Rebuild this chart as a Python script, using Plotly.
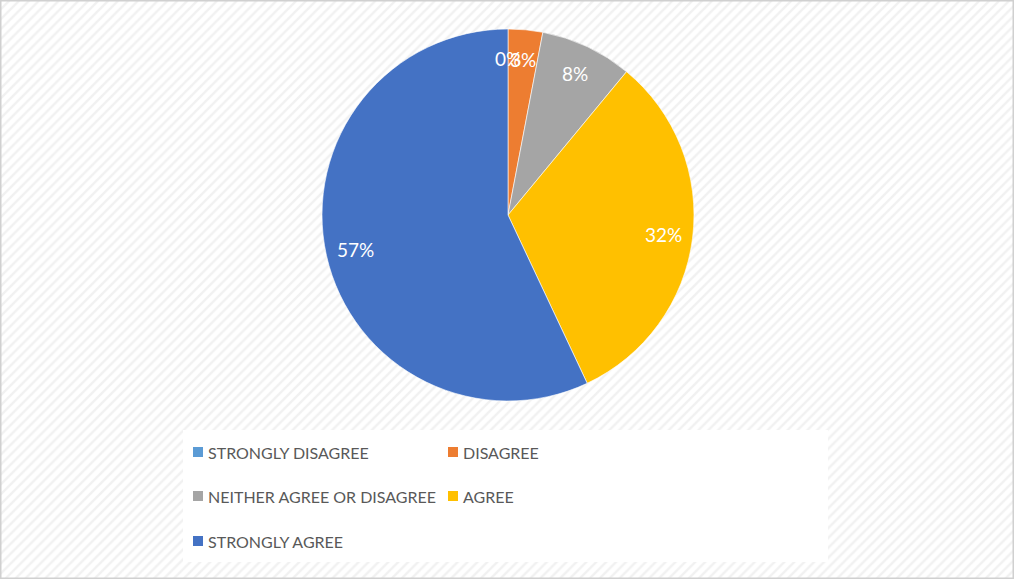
import math
import plotly.graph_objects as go

W, H = 1014, 579

categories = ["STRONGLY DISAGREE", "DISAGREE", "NEITHER AGREE OR DISAGREE", "AGREE", "STRONGLY AGREE"]
shares = [0, 3, 8, 32, 57]
colors = ["#5B9BD5", "#ED7D31", "#A5A5A5", "#FFC000", "#4472C4"]

FONT = "Lato, Liberation Sans"

# pie geometry in pixels
cx, cy, R = 508, 215, 186
dom_x = [(cx - R) / W, (cx + R) / W]
dom_y = [1 - (cy + R) / H, 1 - (cy - R) / H]

fig = go.Figure()

# hatched backdrop covering the whole canvas
fig.add_trace(go.Scatter(
    x=[0, 1, 1, 0, 0], y=[0, 0, 1, 1, 0], mode="lines", fill="toself",
    line=dict(width=0, color="rgba(0,0,0,0)"),
    fillcolor="white",
    fillpattern=dict(shape="/", fgcolor="#e4e4e4", bgcolor="white", size=7, solidity=0.35),
    hoverinfo="skip", showlegend=False,
))

fig.add_trace(go.Pie(
    labels=categories, values=shares, sort=False, direction="clockwise", rotation=0,
    marker=dict(colors=colors, line=dict(color="white", width=0.6)),
    textinfo="none", hole=0, showlegend=False,
    domain=dict(x=dom_x, y=dom_y),
))

annotations = []
# data labels placed along each slice's mid angle
total = sum(shares)
acc = 0
for v in shares:
    mid = (acc + v / 2) / total * 2 * math.pi
    acc += v
    r = 0.84 * R
    px = cx + r * math.sin(mid)
    py = cy - r * math.cos(mid)
    annotations.append(dict(
        x=px / W, y=1 - py / H, xref="paper", yref="paper", showarrow=False,
        text=f"{round(v / total * 100)}%",
        font=dict(family=FONT, size=19, color="white"),
        xanchor="center", yanchor="middle",
    ))

shapes = [
    # outer frame
    dict(type="rect", xref="paper", yref="paper", x0=0, x1=1, y0=0, y1=1,
         line=dict(color="#d0d0d0", width=3), fillcolor="rgba(0,0,0,0)", layer="above"),
    # legend panel
    dict(type="rect", xref="paper", yref="paper",
         x0=183 / W, x1=828 / W, y0=1 - 562 / H, y1=1 - 430 / H,
         line=dict(width=0), fillcolor="white", layer="above"),
]

col_x = [193, 448]
row_y = [452, 496, 541]
for i, (name, c) in enumerate(zip(categories, colors)):
    lx = col_x[i % 2]
    ly = row_y[i // 2]
    shapes.append(dict(type="rect", xref="paper", yref="paper",
                       x0=lx / W, x1=(lx + 10) / W, y0=1 - (ly + 5) / H, y1=1 - (ly - 5) / H,
                       line=dict(width=0), fillcolor=c, layer="above"))
    annotations.append(dict(
        x=(lx + 13) / W, y=1 - ly / H, xref="paper", yref="paper", showarrow=False,
        text=name, xanchor="left", yanchor="middle",
        font=dict(family=FONT, size=16, color="#595959"),
    ))

fig.update_layout(
    width=W, height=H, margin=dict(l=0, r=0, t=0, b=0),
    paper_bgcolor="white", plot_bgcolor="white",
    xaxis=dict(visible=False, range=[0, 1], fixedrange=True),
    yaxis=dict(visible=False, range=[0, 1], fixedrange=True),
    shapes=shapes, annotations=annotations, showlegend=False,
)

fig.write_html("out.html")
